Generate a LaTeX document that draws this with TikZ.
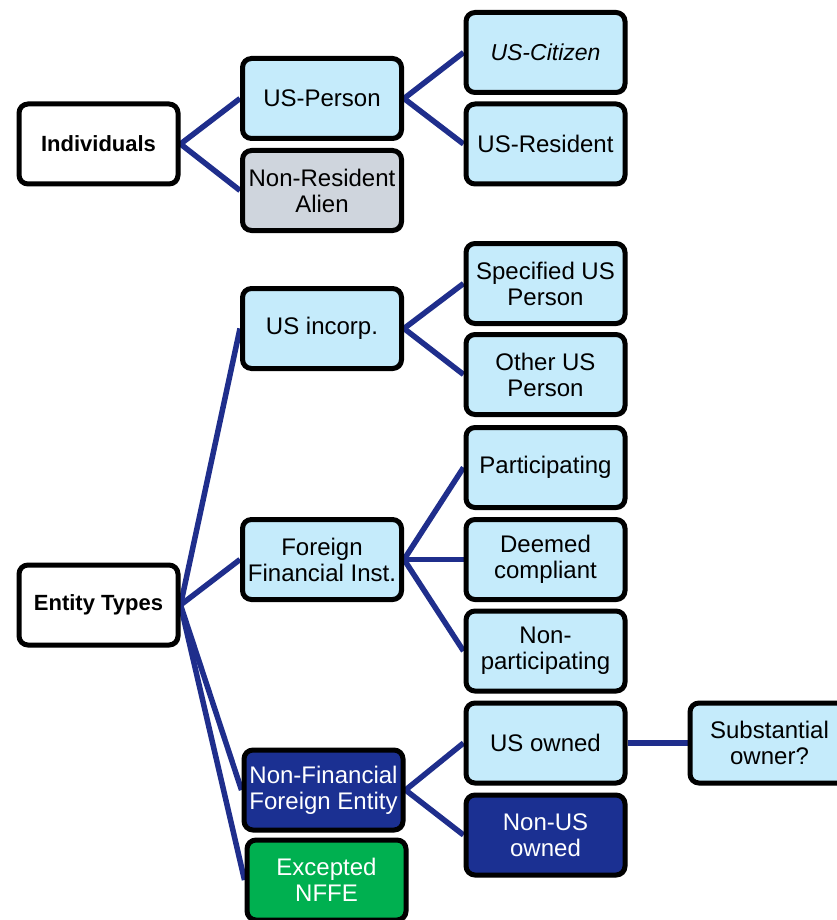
\documentclass[tikz,border=0pt]{standalone}
\usepackage{fontspec}
\setmainfont{Liberation Sans}
\usetikzlibrary{backgrounds,shadows}
\definecolor{lblue}{RGB}{197,235,251}
\definecolor{lgray}{RGB}{207,213,221}
\definecolor{dblue}{RGB}{27,48,146}
\definecolor{egreen}{RGB}{0,176,80}
\definecolor{conn}{RGB}{31,46,140}
\tikzset{
  box/.style={draw=black, line width=5pt, rounded corners=9pt, minimum width=159pt, minimum height=80pt,
    align=center, inner sep=2pt, font=\fontsize{24}{26}\selectfont,
    drop shadow={shadow xshift=2pt, shadow yshift=-2pt, opacity=0.35, fill=black}},
  lb/.style={box, fill=lblue},
  gb/.style={box, fill=lgray},
  db/.style={box, fill=dblue, text=white},
  grb/.style={box, fill=egreen, text=white},
  rootbox/.style={box, fill=white, font=\fontsize{22}{24}\selectfont\bfseries},
  link/.style={draw=conn, line width=5.5pt}
}
\begin{document}
\begin{tikzpicture}[x=1pt,y=-1pt]
\useasboundingbox (0,0) rectangle (837,920);
\clip (0,0) rectangle (837,920);
\node[rootbox] (ind) at (98.5,144) {Individuals};
\node[lb] (usp) at (322,98.5) {US-Person};
\node[gb] (nra) at (322,190.5) {Non-Resident\\Alien};
\node[lb, font=\fontsize{23}{25}\selectfont\itshape] (usc) at (545.5,52.5) {US-Citizen};
\node[lb] (usr) at (545.5,144) {US-Resident};
\node[rootbox] (ent) at (98.5,605) {Entity Types};
\node[lb] (usi) at (322,328.5) {US incorp.};
\node[lb] (sus) at (545.5,283.5) {Specified US\\Person};
\node[lb] (ous) at (545.5,374.5) {Other US\\Person};
\node[lb] (ffi) at (322,559.5) {Foreign\\Financial Inst.};
\node[lb] (par) at (545.5,467.5) {Participating};
\node[lb] (dc) at (545.5,559.5) {Deemed\\compliant};
\node[lb] (np) at (545.5,651) {Non-\\participating};
\node[db] (nffe) at (323.5,790) {Non-Financial\\Foreign Entity};
\node[grb] (exc) at (326.5,880) {Excepted\\NFFE};
\node[lb] (uso) at (545.5,743) {US owned};
\node[db] (nuso) at (545.5,835) {Non-US\\owned};
\node[lb] (sub) at (769.5,743) {Substantial\\owner?};
\begin{scope}[on background layer]
\draw[link] (ind.east) -- (usp.west);
\draw[link] (ind.east) -- (nra.west);
\draw[link] (usp.east) -- (usc.west);
\draw[link] (usp.east) -- (usr.west);
\draw[link] (ent.east) -- (usi.west);
\draw[link] (ent.east) -- (ffi.west);
\draw[link] (ent.east) -- (nffe.west);
\draw[link] (ent.east) -- (exc.west);
\draw[link] (usi.east) -- (sus.west);
\draw[link] (usi.east) -- (ous.west);
\draw[link] (ffi.east) -- (par.west);
\draw[link] (ffi.east) -- (dc.west);
\draw[link] (ffi.east) -- (np.west);
\draw[link] (nffe.east) -- (uso.west);
\draw[link] (nffe.east) -- (nuso.west);
\draw[link] (uso.east) -- (sub.west);
\end{scope}
\end{tikzpicture}
\end{document}
